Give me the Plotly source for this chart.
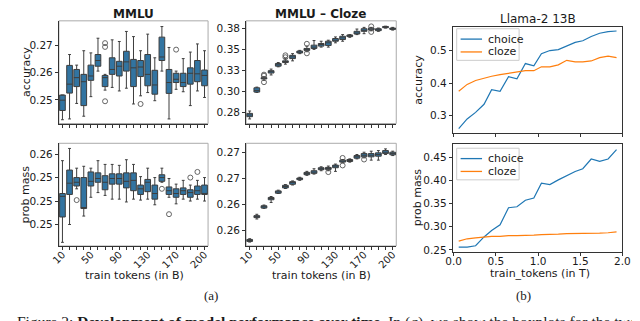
import plotly.graph_objects as go

# ---------------- data ----------------
checkpoints = list(range(1, 22))          # 21 checkpoints (category index)
tick_idx = [1, 5, 9, 13, 17, 21]
tick_lab = ["10", "50", "90", "130", "170", "200"]

# MMLU (choice) accuracy boxes
mmlu_acc_hi  = [0.2518, 0.2667, 0.2628, 0.2681, 0.2673, 0.2727, 0.2594, 0.2721, 0.2715, 0.2752, 0.2733,
                0.2681, 0.2742, 0.2655, 0.2770, 0.2693, 0.2606, 0.2652, 0.2676, 0.2706, 0.2681]
mmlu_acc_q3  = [0.2518, 0.2627, 0.2612, 0.2594, 0.2628, 0.2667, 0.2590, 0.2655, 0.2642, 0.2679, 0.2649,
                0.2645, 0.2667, 0.2609, 0.2731, 0.2612, 0.2598, 0.2598, 0.2618, 0.2645, 0.2610]
mmlu_acc_med = [0.2499, 0.2558, 0.2582, 0.2567, 0.2588, 0.2645, 0.2582, 0.2612, 0.2624, 0.2640, 0.2618,
                0.2621, 0.2594, 0.2555, 0.2658, 0.2564, 0.2576, 0.2564, 0.2598, 0.2596, 0.2590]
mmlu_acc_q1  = [0.2461, 0.2525, 0.2549, 0.2479, 0.2572, 0.2624, 0.2549, 0.2594, 0.2588, 0.2606, 0.2549,
                0.2586, 0.2552, 0.2521, 0.2645, 0.2524, 0.2564, 0.2549, 0.2558, 0.2567, 0.2552]
mmlu_acc_lo  = [0.2427, 0.2430, 0.2487, 0.2440, 0.2512, 0.2606, 0.2536, 0.2546, 0.2533, 0.2543, 0.2485,
                0.2515, 0.2527, 0.2497, 0.2606, 0.2430, 0.2539, 0.2530, 0.2479, 0.2533, 0.2509]
mmlu_acc_out_x = [7, 7, 7, 12, 17]
mmlu_acc_out_y = [0.2709, 0.2695, 0.2495, 0.2485, 0.2685]

# MMLU (choice) prob mass boxes
mmlu_pm_hi  = [0.2543, 0.2556, 0.2535, 0.2537, 0.2535, 0.2543, 0.2539, 0.2539, 0.2538, 0.2544, 0.2539,
               0.2526, 0.2535, 0.2525, 0.2535, 0.2524, 0.2518, 0.2522, 0.2517, 0.2522, 0.2525]
mmlu_pm_q3  = [0.2508, 0.2533, 0.2525, 0.2525, 0.2531, 0.2530, 0.2527, 0.2529, 0.2529, 0.2530, 0.2530,
               0.2517, 0.2523, 0.2517, 0.2528, 0.2515, 0.2513, 0.2514, 0.2512, 0.2516, 0.2517]
mmlu_pm_med = [0.2505, 0.2519, 0.2520, 0.2493, 0.2521, 0.2524, 0.2520, 0.2524, 0.2524, 0.2521, 0.2522,
               0.2513, 0.2520, 0.2508, 0.2525, 0.2511, 0.2508, 0.2511, 0.2509, 0.2511, 0.2508]
mmlu_pm_q1  = [0.2483, 0.2507, 0.2516, 0.2492, 0.2516, 0.2520, 0.2512, 0.2518, 0.2518, 0.2514, 0.2511,
               0.2507, 0.2510, 0.2502, 0.2521, 0.2507, 0.2504, 0.2507, 0.2504, 0.2507, 0.2507]
mmlu_pm_lo  = [0.2456, 0.2475, 0.2513, 0.2484, 0.2504, 0.2509, 0.2506, 0.2502, 0.2502, 0.2499, 0.2502,
               0.2501, 0.2502, 0.2496, 0.2520, 0.2504, 0.2497, 0.2502, 0.2500, 0.2502, 0.2500]
mmlu_pm_out_x = [3, 15, 16, 19, 20]
mmlu_pm_out_y = [0.2501, 0.2513, 0.2486, 0.2525, 0.2531]

# MMLU - Cloze accuracy boxes
cloze_acc_hi  = [0.2769, 0.3054, 0.3178, 0.3269, 0.3347, 0.3398, 0.3453, 0.3492, 0.3543, 0.3609, 0.3601,
                 0.3613, 0.3652, 0.3680, 0.3680, 0.3746, 0.3766, 0.3766, 0.3758, 0.3780, 0.3766]
cloze_acc_q3  = [0.2741, 0.3046, 0.3167, 0.3250, 0.3336, 0.3367, 0.3433, 0.3484, 0.3515, 0.3554, 0.3574,
                 0.3601, 0.3633, 0.3660, 0.3676, 0.3719, 0.3750, 0.3758, 0.3750, 0.3777, 0.3758]
cloze_acc_med = [0.2722, 0.3015, 0.3160, 0.3238, 0.3320, 0.3359, 0.3414, 0.3472, 0.3504, 0.3531, 0.3562,
                 0.3582, 0.3613, 0.3641, 0.3668, 0.3699, 0.3730, 0.3745, 0.3738, 0.3770, 0.3750]
cloze_acc_q1  = [0.2702, 0.2995, 0.3152, 0.3222, 0.3304, 0.3347, 0.3394, 0.3461, 0.3492, 0.3515, 0.3543,
                 0.3551, 0.3601, 0.3621, 0.3656, 0.3687, 0.3719, 0.3735, 0.3727, 0.3762, 0.3742]
cloze_acc_lo  = [0.2675, 0.2991, 0.3135, 0.3199, 0.3296, 0.3328, 0.3367, 0.3453, 0.3476, 0.3504, 0.3531,
                 0.3531, 0.3582, 0.3601, 0.3648, 0.3680, 0.3691, 0.3725, 0.3719, 0.3758, 0.3734]
cloze_acc_out_x = [3, 3, 3, 6, 6, 9, 9, 18, 18]
cloze_acc_out_y = [0.3203, 0.3190, 0.3113, 0.3433, 0.3410, 0.3570, 0.3457, 0.3778, 0.3712]

# MMLU - Cloze prob mass boxes
cloze_pm_hi  = [0.26168, 0.26403, 0.26492, 0.26574, 0.26635, 0.26689, 0.26724, 0.26759, 0.26816, 0.26841, 0.26860,
                0.26867, 0.26886, 0.26930, 0.26936, 0.26978, 0.27000, 0.27010, 0.27016, 0.27032, 0.27010]
cloze_pm_q3  = [0.26161, 0.26390, 0.26485, 0.26565, 0.26628, 0.26682, 0.26717, 0.26752, 0.26806, 0.26822, 0.26851,
                0.26854, 0.26876, 0.26924, 0.26930, 0.26968, 0.26987, 0.26987, 0.26994, 0.27016, 0.27000]
cloze_pm_med = [0.26152, 0.26380, 0.26476, 0.26555, 0.26619, 0.26670, 0.26708, 0.26746, 0.26797, 0.26809, 0.26841,
                0.26844, 0.26867, 0.26914, 0.26921, 0.26956, 0.26971, 0.26971, 0.26978, 0.27000, 0.26987]
cloze_pm_q1  = [0.26142, 0.26371, 0.26463, 0.26543, 0.26606, 0.26657, 0.26692, 0.26736, 0.26784, 0.26797, 0.26832,
                0.26835, 0.26851, 0.26905, 0.26911, 0.26943, 0.26956, 0.26956, 0.26962, 0.26987, 0.26975]
cloze_pm_lo  = [0.26136, 0.26358, 0.26460, 0.26517, 0.26603, 0.26651, 0.26685, 0.26730, 0.26778, 0.26790, 0.26822,
                0.26822, 0.26816, 0.26898, 0.26905, 0.26936, 0.26946, 0.26924, 0.26924, 0.26978, 0.26968]
cloze_pm_out_x = [12, 14, 14, 17]
cloze_pm_out_y = [0.26809, 0.26945, 0.26873, 0.26930]

# Llama-2 13B
llama_tokens = [0.06, 0.16, 0.26, 0.36, 0.45, 0.55, 0.65, 0.75, 0.85, 0.95,
                1.04, 1.14, 1.24, 1.34, 1.44, 1.53, 1.63, 1.73, 1.83, 1.93]
llama_choice_acc = [0.260, 0.290, 0.310, 0.335, 0.380, 0.375, 0.420, 0.413, 0.460, 0.453,
                    0.490, 0.500, 0.503, 0.513, 0.525, 0.530, 0.543, 0.553, 0.558, 0.560]
llama_cloze_acc = [0.375, 0.396, 0.408, 0.416, 0.421, 0.426, 0.430, 0.433, 0.438, 0.438,
                   0.450, 0.450, 0.456, 0.470, 0.465, 0.465, 0.468, 0.478, 0.483, 0.478]
llama_choice_pm = [0.256, 0.256, 0.259, 0.278, 0.292, 0.304, 0.341, 0.343, 0.357, 0.362,
                   0.394, 0.391, 0.401, 0.410, 0.419, 0.425, 0.446, 0.441, 0.446, 0.466]
llama_cloze_pm = [0.269, 0.274, 0.276, 0.278, 0.279, 0.279, 0.281, 0.281, 0.281, 0.282,
                  0.283, 0.283, 0.284, 0.285, 0.285, 0.286, 0.286, 0.286, 0.287, 0.289]
legend_names = ["choice", "cloze"]

# ---------------- layout helpers ----------------
W, H = 640, 321
def fx(p): return p / W
def fy(p): return 1 - p / H

BOX_FILL = "#3274a1"
BOX_LINE = "#3d3d3d"
FONT = "DejaVu Sans"
TXT = "#1a1a1a"
C_BLUE, C_ORANGE = "#1f77b4", "#ff7f0e"

fig = go.Figure()

def add_box(ax, hi, q3, med, q1, lo, ox, oy):
    fig.add_trace(go.Box(x=checkpoints, q1=q1, median=med, q3=q3, lowerfence=lo, upperfence=hi,
                         xaxis="x" + ax, yaxis="y" + ax, fillcolor=BOX_FILL,
                         line=dict(color=BOX_LINE, width=1), width=0.8, whiskerwidth=0.5,
                         boxpoints=False, showlegend=False, hoverinfo="skip"))
    fig.add_trace(go.Scatter(x=ox, y=oy, mode="markers", xaxis="x" + ax, yaxis="y" + ax,
                             marker=dict(symbol="circle-open", size=5, color="#555555",
                                         line=dict(width=0.9)),
                             showlegend=False, hoverinfo="skip"))

add_box("", mmlu_acc_hi, mmlu_acc_q3, mmlu_acc_med, mmlu_acc_q1, mmlu_acc_lo, mmlu_acc_out_x, mmlu_acc_out_y)
add_box("2", mmlu_pm_hi, mmlu_pm_q3, mmlu_pm_med, mmlu_pm_q1, mmlu_pm_lo, mmlu_pm_out_x, mmlu_pm_out_y)
add_box("3", cloze_acc_hi, cloze_acc_q3, cloze_acc_med, cloze_acc_q1, cloze_acc_lo, cloze_acc_out_x, cloze_acc_out_y)
add_box("4", cloze_pm_hi, cloze_pm_q3, cloze_pm_med, cloze_pm_q1, cloze_pm_lo, cloze_pm_out_x, cloze_pm_out_y)

for ys, col, ax in [(llama_choice_acc, C_BLUE, "5"), (llama_cloze_acc, C_ORANGE, "5"),
                    (llama_choice_pm, C_BLUE, "6"), (llama_cloze_pm, C_ORANGE, "6")]:
    fig.add_trace(go.Scatter(x=llama_tokens, y=ys, mode="lines", line=dict(color=col, width=1.2),
                             xaxis="x" + ax, yaxis="y" + ax, showlegend=False, hoverinfo="skip"))

tickfont = dict(family=FONT, size=10.5, color=TXT)

def box_xaxis(domain, anchor, labels):
    return dict(domain=domain, anchor=anchor, range=[0.5, 21.5], tickmode="array",
                tickvals=checkpoints,
                ticktext=[(tick_lab[tick_idx.index(c)] if (labels and c in tick_idx) else "") for c in checkpoints],
                tickangle=-45, ticks="outside", ticklen=3, tickwidth=1, tickcolor="#333",
                showline=True, linecolor="#333", linewidth=1, showgrid=False, zeroline=False,
                tickfont=dict(family=FONT, size=10, color=TXT), ticklabelstandoff=-5)

def yaxis(domain, anchor, rng, tv, tt):
    return dict(domain=domain, anchor=anchor, range=rng, tickmode="array", tickvals=tv, ticktext=tt,
                ticks="outside", ticklen=3, tickwidth=1, tickcolor="#333",
                showline=True, linecolor="#333", linewidth=1, showgrid=False, zeroline=False,
                tickfont=tickfont)

P1X = [fx(44), fx(197)]
P2X = [fx(236), fx(390)]
P3X = [fx(448), fx(622)]
TOPY = [fy(117), fy(13)]
BOTY = [fy(241), fy(137)]
L_TOPY = [fy(127), fy(19)]
L_BOTY = [fy(247), fy(138)]

fig.update_layout(
    width=W, height=H, margin=dict(l=0, r=0, t=0, b=0),
    paper_bgcolor="white", plot_bgcolor="white", showlegend=False,
    xaxis=box_xaxis(P1X, "y", False),
    yaxis=yaxis(TOPY, "x", [0.2413, 0.2791], [0.25, 0.26, 0.27], ["0.25", "0.26", "0.27"]),
    xaxis2=box_xaxis(P1X, "y2", True),
    yaxis2=yaxis(BOTY, "x2", [0.24521, 0.25615], [0.2475, 0.25, 0.2525, 0.255],
                 ["0.25", "0.25", "0.25", "0.26"]),
    xaxis3=box_xaxis(P2X, "y3", False),
    yaxis3=yaxis(TOPY, "x3", [0.262, 0.3844], [0.275, 0.30, 0.325, 0.35, 0.375],
                 ["0.28", "0.30", "0.33", "0.35", "0.38"]),
    xaxis4=box_xaxis(P2X, "y4", True),
    yaxis4=yaxis(BOTY, "x4", [0.26098, 0.27086], [0.2625, 0.265, 0.2675, 0.27],
                 ["0.26", "0.26", "0.27", "0.27"]),
    xaxis5=dict(domain=P3X, anchor="y5", range=[-0.01, 2.0], tickvals=[0, 0.5, 1.0, 1.5, 2.0],
                ticktext=["", "", "", "", ""], ticks="outside", ticklen=3, tickcolor="#333",
                showline=True, mirror=True, linecolor="#333", linewidth=1, showgrid=False,
                zeroline=False, tickfont=tickfont),
    yaxis5=dict(domain=L_TOPY, anchor="x5", range=[0.2455, 0.573], tickvals=[0.3, 0.4, 0.5],
                ticktext=["0.3", "0.4", "0.5"], ticks="outside", ticklen=3, tickcolor="#333",
                showline=True, mirror=True, linecolor="#333", linewidth=1, showgrid=False,
                zeroline=False, tickfont=tickfont),
    xaxis6=dict(domain=P3X, anchor="y6", range=[-0.01, 2.0], tickvals=[0, 0.5, 1.0, 1.5, 2.0],
                ticktext=["0.0", "0.5", "1.0", "1.5", "2.0"], ticks="outside", ticklen=3,
                tickcolor="#333", showline=True, mirror=True, linecolor="#333", linewidth=1,
                showgrid=False, zeroline=False, tickfont=tickfont, ticklabelstandoff=-4),
    yaxis6=dict(domain=L_BOTY, anchor="x6", range=[0.2457, 0.4777],
                tickvals=[0.25, 0.30, 0.35, 0.40, 0.45],
                ticktext=["0.25", "0.30", "0.35", "0.40", "0.45"], ticks="outside", ticklen=3,
                tickcolor="#333", showline=True, mirror=True, linecolor="#333", linewidth=1,
                showgrid=False, zeroline=False, tickfont=tickfont),
)

# light frame on top/right for the box panels
for x0, x1, y0, y1 in [(44, 197, 13, 117), (44, 197, 137, 241), (236, 390, 13, 117), (236, 390, 137, 241)]:
    fig.add_shape(type="rect", xref="paper", yref="paper", x0=fx(x0), x1=fx(x1), y0=fy(y1), y1=fy(y0),
                  line=dict(color="#aaaaaa", width=1), layer="below")

def ann(text, x, y, size=11, angle=0, family=FONT, bold=False, xanchor="center", yanchor="middle"):
    fig.add_annotation(text=("<b>%s</b>" % text) if bold else text, x=fx(x), y=fy(y), xref="paper",
                       yref="paper", showarrow=False, textangle=angle, xanchor=xanchor,
                       yanchor=yanchor, font=dict(family=family, size=size, color=TXT))

# compact legends for the Llama panels (box, line samples, labels)
for top in (21, 142):
    fig.add_shape(type="rect", xref="paper", yref="paper", x0=fx(452), x1=fx(516),
                  y0=fy(top + 32), y1=fy(top), line=dict(color="#cccccc", width=1),
                  fillcolor="rgba(255,255,255,0.85)")
    for k, (name, col) in enumerate(zip(legend_names, [C_BLUE, C_ORANGE])):
        yy = top + 10.5 + 13 * k
        fig.add_shape(type="line", xref="paper", yref="paper", x0=fx(456), x1=fx(478),
                      y0=fy(yy), y1=fy(yy), line=dict(color=col, width=1.3))
        ann(name, 482, yy, size=11, xanchor="left")

ann("MMLU", 120, 6, size=12, bold=True)
ann("MMLU – Cloze", 313, 6, size=12, bold=True)
ann("Llama-2 13B", 535, 11, size=12)
ann("accuracy", 10, 65, angle=-90)
ann("prob mass", 10, 189, angle=-90)
ann("accuracy", 412, 73, angle=-90)
ann("prob mass", 412, 192, angle=-90)
ann("train tokens (in B)", 122, 271)
ann("train tokens (in B)", 313, 271)
ann("train_tokens (in T)", 537, 269)
ann("(a)", 200, 291, size=13, family="Liberation Serif")
ann("(b)", 520, 291, size=13, family="Liberation Serif")
ann("Figure 2: <b>Development of model performance over time</b>. In (<i>a</i>), we show the boxplots for the two",
    -1, 318, size=15.5, family="Liberation Serif", xanchor="left", yanchor="middle")

fig.write_html("out.html")
